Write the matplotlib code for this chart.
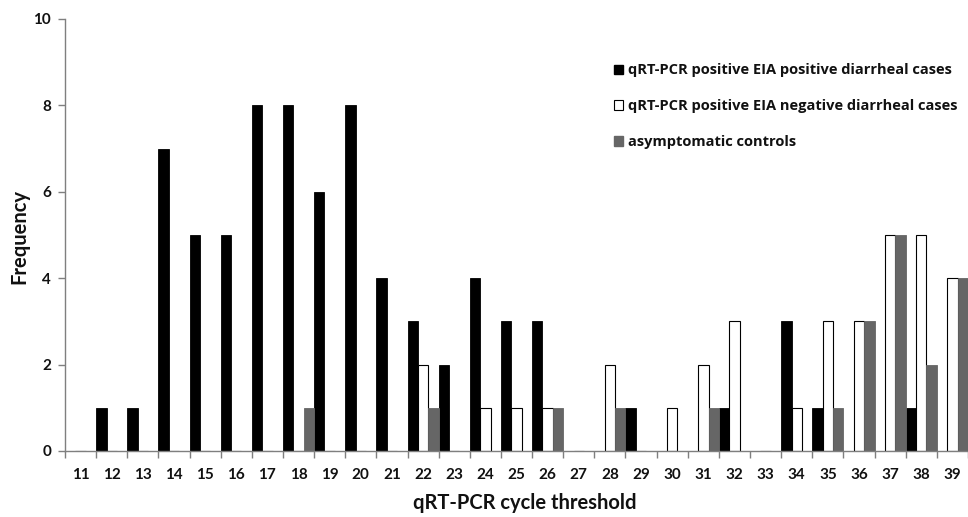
import numpy as np
import matplotlib
matplotlib.use("Agg")
import matplotlib.pyplot as plt
from matplotlib.patches import Patch

# Cycle threshold categories and counts per group
cycle_threshold = list(range(11, 40))
eia_positive = [0, 1, 1, 7, 5, 5, 8, 8, 6, 8, 4, 3, 2, 4, 3, 3, 0, 0, 1, 0,
                0, 1, 0, 3, 1, 0, 0, 1, 0]
eia_negative = [0, 0, 0, 0, 0, 0, 0, 0, 0, 0, 0, 2, 0, 1, 1, 1, 0, 2, 0, 1,
                2, 3, 0, 1, 3, 3, 5, 5, 4]
controls = [0, 0, 0, 0, 0, 0, 0, 1, 0, 0, 0, 1, 0, 0, 0, 1, 0, 1, 0, 0,
            1, 0, 0, 0, 1, 3, 5, 2, 4]
series_labels = [
    "qRT-PCR positive EIA positive diarrheal cases",
    "qRT-PCR positive EIA negative diarrheal cases",
    "asymptomatic controls",
]

AXIS_COLOR = "#7f7f7f"
GRAY = "#666666"
TEXT = "#111111"
W, H = 968, 517


def main():
    fig = plt.figure(figsize=(W / 100, H / 100), dpi=100)
    left = 65 / W
    bottom = (H - 451) / H
    top = (H - 19) / H
    ax = fig.add_axes([left, bottom, 1.0 - left, top - bottom])

    x = np.arange(len(cycle_threshold))
    bw = 1 / 3
    ax.bar(x, eia_positive, width=bw, align="edge", color="black",
           edgecolor="black", linewidth=0.6, zorder=2)
    ax.bar(x + bw, eia_negative, width=bw, align="edge", color="white",
           edgecolor="black", linewidth=0.8, zorder=2)
    ax.bar(x + 2 * bw, controls, width=bw, align="edge", color=GRAY,
           edgecolor=GRAY, linewidth=0.6, zorder=2)

    px_per_cat = 31.3
    ax.set_xlim(0, (W - 65) / px_per_cat)
    ax.set_ylim(0, 10)

    # tick marks between categories, labels centred in each category
    ax.set_xticks(np.arange(0, len(cycle_threshold) + 1))
    ax.set_xticklabels([])
    ax.set_xticks(x + 0.5, minor=True)
    ax.set_xticklabels([str(c) for c in cycle_threshold], minor=True)
    ax.tick_params(axis="x", which="major", length=5, width=1,
                   color=AXIS_COLOR, direction="out")
    ax.tick_params(axis="x", which="minor", length=0, pad=12)
    ax.set_yticks(range(0, 11, 2))
    ax.tick_params(axis="y", length=5, width=1, color=AXIS_COLOR,
                   direction="out", pad=5)

    for lab in ax.get_xticklabels(minor=True) + ax.get_yticklabels():
        lab.set_fontfamily("Lato")
        lab.set_fontweight("bold")
        lab.set_fontsize(11)
        lab.set_color(TEXT)

    for side in ["top", "right"]:
        ax.spines[side].set_visible(False)
    for side in ["left", "bottom"]:
        ax.spines[side].set_color(AXIS_COLOR)
        ax.spines[side].set_linewidth(1)
        ax.spines[side].set_zorder(3)

    fig.text(19 / W, 1 - 236 / H, "Frequency", rotation=90, ha="center",
             va="center", fontfamily="Lato", fontweight="bold", fontsize=14.5,
             color=TEXT)
    fig.text(525 / W, 1 - 503 / H, "qRT-PCR cycle threshold", ha="center",
             va="center", fontfamily="Lato", fontweight="bold", fontsize=14.5,
             color=TEXT)

    handles = [
        Patch(facecolor="black", edgecolor="black"),
        Patch(facecolor="white", edgecolor="black", linewidth=0.8),
        Patch(facecolor=GRAY, edgecolor=GRAY),
    ]
    leg = fig.legend(handles, series_labels, loc="upper left",
                     bbox_to_anchor=(607 / W, 1 - 56 / H), frameon=False,
                     handlelength=0.6, handleheight=0.6, handletextpad=0.35,
                     labelspacing=1.5, borderpad=0,
                     prop={"family": "Open Sans", "weight": "bold", "size": 10.5})
    for t in leg.get_texts():
        t.set_color(TEXT)

    fig.savefig("out.png", dpi=100)
    plt.close(fig)


if __name__ == "__main__":
    main()
